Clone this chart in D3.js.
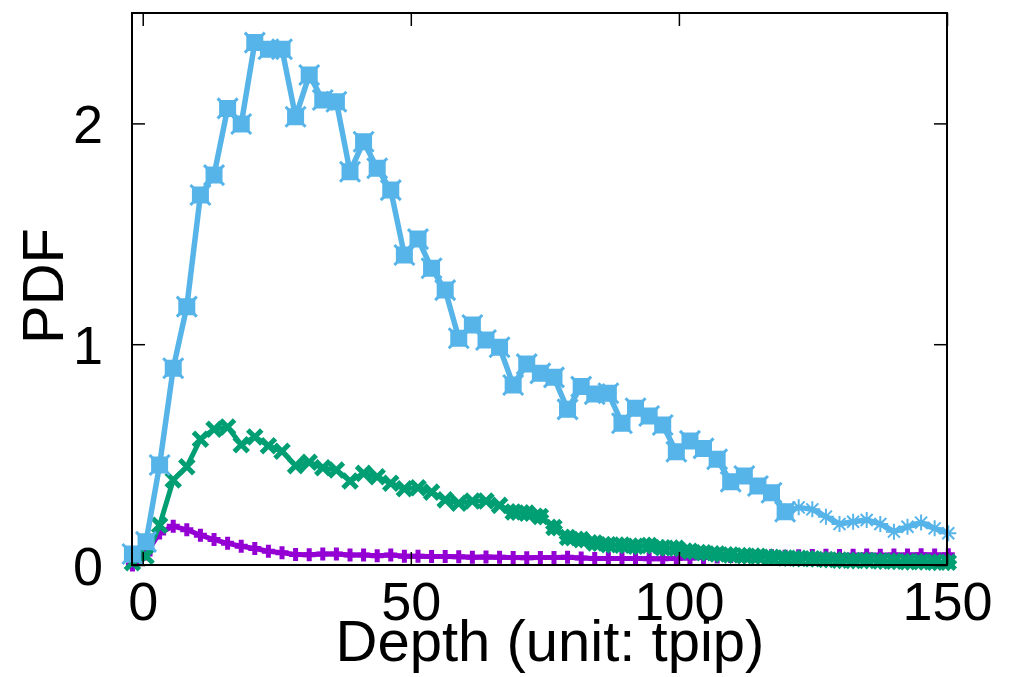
<!DOCTYPE html>
<html>
<head>
<meta charset="utf-8">
<script src="https://cdn.jsdelivr.net/npm/d3@7/dist/d3.min.js"></script>
<style>
  html, body { margin: 0; padding: 0; background: #fff; }
  svg { display: block; }
  text { font-family: "Liberation Sans", Arial, Helvetica, sans-serif; fill: #000; }
</style>
</head>
<body>
<svg id="chart" width="1021" height="677"></svg>
<script>
// ---- data ----
const depth = [-1.92, 0.62, 3.15, 5.69, 8.22, 10.76, 13.30, 15.83, 18.37, 20.90,
  23.44, 25.98, 28.51, 31.05, 33.58, 36.12, 38.66, 41.19, 43.73, 46.26,
  48.80, 51.34, 53.87, 56.41, 58.94, 61.48, 64.02, 66.55, 69.09, 71.62,
  74.16, 76.70, 79.23, 81.77, 84.30, 86.84, 89.38, 91.91, 94.45, 96.98,
  99.52, 102.06, 104.59, 107.13, 109.66, 112.20, 114.74, 117.27, 119.81, 122.34,
  124.88, 127.42, 129.95, 132.49, 135.02, 137.56, 140.10, 142.63, 145.17, 147.70,
  150.24];

const blueValues = [0.05, 0.105, 0.453, 0.891, 1.17, 1.676, 1.766, 2.068, 1.997, 2.366,
  2.336, 2.336, 2.03, 2.219, 2.106, 2.098, 1.781, 1.917, 1.797, 1.698,
  1.404, 1.476, 1.344, 1.245, 1.027, 1.087, 1.019, 0.986, 0.815, 0.910,
  0.868, 0.850, 0.705, 0.808, 0.774, 0.778, 0.642, 0.710, 0.675, 0.634,
  0.513, 0.562, 0.528, 0.479, 0.377, 0.403, 0.358, 0.327, 0.241, 0.261,
  0.252, 0.219, 0.186, 0.196, 0.204, 0.186, 0.151, 0.173, 0.192, 0.166,
  0.144];

const greenValues = [0.01, 0.04, 0.18, 0.385, 0.445, 0.57, 0.615, 0.625, 0.545, 0.58,
  0.54, 0.515, 0.45, 0.465, 0.44, 0.43, 0.38, 0.415, 0.40, 0.37,
  0.345, 0.35, 0.33, 0.295, 0.28, 0.29, 0.29, 0.27, 0.24, 0.235,
  0.22, 0.17, 0.125, 0.115, 0.10, 0.092, 0.09, 0.085, 0.088, 0.078,
  0.076, 0.062, 0.055, 0.05, 0.045, 0.042, 0.04, 0.035, 0.032, 0.03,
  0.028, 0.025, 0.022, 0.02, 0.02, 0.018, 0.017, 0.015, 0.015, 0.013,
  0.012];

const purpleValues = [0.0, 0.05, 0.145, 0.175, 0.16, 0.135, 0.115, 0.098, 0.085, 0.075,
  0.062, 0.055, 0.048, 0.046, 0.05, 0.05, 0.045, 0.045, 0.042, 0.045,
  0.04, 0.04, 0.038, 0.038, 0.037, 0.035, 0.036, 0.035, 0.034, 0.033,
  0.034, 0.034, 0.035, 0.032, 0.03, 0.03, 0.03, 0.03, 0.028, 0.028,
  0.03, 0.032, 0.034, 0.036, 0.038, 0.04, 0.04, 0.042, 0.04, 0.042,
  0.043, 0.044, 0.043, 0.044, 0.045, 0.044, 0.045, 0.045, 0.046, 0.045,
  0.046];

const xTicks = [0, 50, 100, 150];
const yTicks = [0, 1, 2];
const xLabel = "Depth (unit: tpip)";
const yLabel = "PDF";

// ---- layout ----
const svg = d3.select("#chart");
const mLeft = 132, mRight = 947, mTop = 13, mBottom = 565;
const x = d3.scaleLinear().domain([-2, 150]).range([mLeft, mRight]);
const y = d3.scaleLinear().domain([0, 2.5]).range([mBottom, mTop]);

const colors = { blue: "#56B4E9", green: "#009E73", purple: "#9400D3" };

const mk = (vals) => depth.map((d, i) => ({ x: d, y: vals[i], i }));
const blue = mk(blueValues), green = mk(greenValues), purple = mk(purpleValues);
const line = d3.line().x(d => x(d.x)).y(d => y(d.y));

// purple series
svg.append("path").datum(purple).attr("d", line)
  .attr("fill", "none").attr("stroke", colors.purple).attr("stroke-width", 5).attr("stroke-linejoin", "round");
svg.append("g").selectAll("path").data(purple).join("path")
  .attr("transform", d => `translate(${x(d.x)},${y(d.y)})`)
  .attr("d", "M-6.5,0H6.5M0,-6.5V6.5")
  .attr("stroke", colors.purple).attr("stroke-width", 5).attr("fill", "none");

// green series
svg.append("path").datum(green).attr("d", line)
  .attr("fill", "none").attr("stroke", colors.green).attr("stroke-width", 5).attr("stroke-linejoin", "round");
const gg = svg.append("g");
gg.selectAll("path.x").data(green).join("path")
  .attr("class", "x")
  .attr("transform", d => `translate(${x(d.x)},${y(d.y)})`)
  .attr("d", "M-7,-7L7,7M-7,7L7,-7")
  .attr("stroke", colors.green).attr("stroke-width", 5).attr("fill", "none");
gg.selectAll("path.dia").data(green.filter(d => d.i >= 28)).join("path")
  .attr("class", "dia")
  .attr("transform", d => `translate(${x(d.x)},${y(d.y)})`)
  .attr("d", "M0,-9L9,0L0,9L-9,0Z")
  .attr("fill", colors.green);

// blue series
svg.append("path").datum(blue).attr("d", line)
  .attr("fill", "none").attr("stroke", colors.blue).attr("stroke-width", 5.5).attr("stroke-linejoin", "round");
const bg = svg.append("g");
bg.selectAll("rect").data(blue.filter(d => d.i <= 48)).join("rect")
  .attr("x", d => x(d.x) - 8.5).attr("y", d => y(d.y) - 8.5)
  .attr("width", 17).attr("height", 17).attr("rx", 2).attr("fill", colors.blue);
bg.selectAll("path.blob").data(blue.filter(d => d.i <= 48)).join("path")
  .attr("class", "blob")
  .attr("transform", d => `translate(${x(d.x)},${y(d.y)})`)
  .attr("d", "M-10,-10L10,10M-10,10L10,-10")
  .attr("stroke", colors.blue).attr("stroke-width", 3).attr("fill", "none");
bg.selectAll("path.star").data(blue).join("path")
  .attr("class", "star")
  .attr("transform", d => `translate(${x(d.x)},${y(d.y)})`)
  .attr("d", "M-8,0H8M0,-8V8M-6,-6L6,6M-6,6L6,-6")
  .attr("stroke", colors.blue).attr("stroke-width", 2).attr("fill", "none");

// ---- frame & axes ----
svg.append("rect").attr("x", mLeft).attr("y", mTop)
  .attr("width", mRight - mLeft).attr("height", mBottom - mTop)
  .attr("fill", "none").attr("stroke", "#000").attr("stroke-width", 2);

const tickLen = 13;
const gx = svg.append("g")
  .attr("transform", `translate(0,${mBottom})`)
  .call(d3.axisBottom(x).tickValues(xTicks).tickFormat(d3.format("d"))
    .tickSizeInner(-tickLen).tickSizeOuter(0).tickPadding(tickLen + 4));
const gxTop = svg.append("g")
  .attr("transform", `translate(0,${mTop})`)
  .call(d3.axisTop(x).tickValues(xTicks).tickSizeInner(-tickLen).tickSizeOuter(0).tickFormat(""));
const gy = svg.append("g")
  .attr("transform", `translate(${mLeft},0)`)
  .call(d3.axisLeft(y).tickValues(yTicks).tickFormat(d3.format("d"))
    .tickSizeInner(-tickLen).tickSizeOuter(0).tickPadding(tickLen + 16));
const gyR = svg.append("g")
  .attr("transform", `translate(${mRight},0)`)
  .call(d3.axisRight(y).tickValues(yTicks).tickSizeInner(-tickLen).tickSizeOuter(0).tickFormat(""));

[gx, gxTop, gy, gyR].forEach(g => {
  g.select(".domain").remove();
  g.selectAll(".tick line").attr("stroke", "#000").attr("stroke-width", 1.5);
  g.selectAll("text").style("font-size", "54px")
    .style("font-family", '"Liberation Sans", Arial, Helvetica, sans-serif').attr("fill", "#000");
});
gx.selectAll("text").attr("dy", "0.71em");
gy.selectAll("text").attr("dy", "0.36em");

// axis titles
svg.append("text").attr("x", 550).attr("y", 661)
  .attr("text-anchor", "middle").style("font-size", "58px").text(xLabel);
svg.append("text").attr("transform", `translate(63,${(mTop + mBottom) / 2 - 3}) rotate(-90)`)
  .attr("text-anchor", "middle").style("font-size", "58px").text(yLabel);
</script>
</body>
</html>
